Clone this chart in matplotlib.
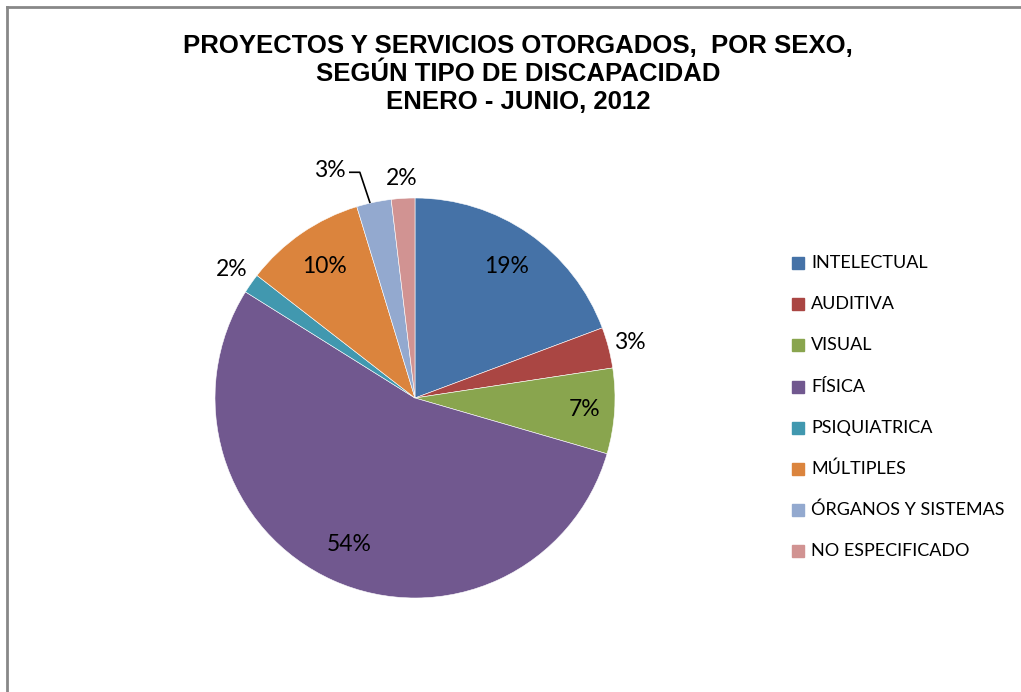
import numpy as np
import matplotlib
matplotlib.use("Agg")
import matplotlib.pyplot as plt
from matplotlib.lines import Line2D

# datos
categorias = ["INTELECTUAL", "AUDITIVA", "VISUAL", "FÍSICA", "PSIQUIATRICA",
              "MÚLTIPLES", "ÓRGANOS Y SISTEMAS", "NO ESPECIFICADO"]
valores = [19.3, 3.3, 6.9, 54.4, 1.6, 9.8, 2.8, 1.9]
etiquetas = ["19%", "3%", "7%", "54%", "2%", "10%", "3%", "2%"]
colores = ["#4572A7", "#AA4643", "#89A54E", "#71588F", "#4198AF",
           "#DB843D", "#93A9CF", "#D19392"]

titulo = ("PROYECTOS Y SERVICIOS OTORGADOS,  POR SEXO,\n"
          "SEGÚN TIPO DE DISCAPACIDAD\nENERO - JUNIO, 2012")

fig = plt.figure(figsize=(10.21, 6.92), dpi=100)
W, H = 1021, 692

# marco
fig.add_artist(Line2D([7 / W, 7 / W], [0, 1 - 7 / H], color="#888888", lw=2))
fig.add_artist(Line2D([7 / W, 1], [1 - 7 / H, 1 - 7 / H], color="#888888", lw=2))

fig.text(518 / W, 1 - 74 / H, titulo, ha="center", va="center",
         fontsize=18.5, fontweight="bold", family="Liberation Sans",
         linespacing=1.22)

ax = fig.add_axes([215 / W, 94 / H, 400 / W, 400 / H])
wedges, _ = ax.pie(valores, colors=colores, startangle=90, counterclock=False,
                   radius=1, wedgeprops=dict(edgecolor="white", linewidth=0.4))
ax.set_xlim(-1, 1)
ax.set_ylim(-1, 1)
ax.set_aspect("equal")
ax.axis("off")

fuente = "Lato"
# distancia radial de cada etiqueta
dist = [0.8, 1.11, 0.85, 0.8, 1.12, 0.8, None, 1.1]
for i, w in enumerate(wedges):
    ang = np.deg2rad((w.theta1 + w.theta2) / 2)
    if dist[i] is None:
        continue
    x, y = dist[i] * np.cos(ang), dist[i] * np.sin(ang)
    ax.text(x, y, etiquetas[i], ha="center", va="center", fontsize=16.5,
            family=fuente, color="black", clip_on=False)

# etiqueta con línea guía (órganos y sistemas)
w = wedges[6]
ang = np.deg2rad((w.theta1 + w.theta2) / 2)
ex, ey = np.cos(ang), np.sin(ang)
ax.plot([ex - 0.02, ex - 0.07, ex - 0.12], [ey, ey + 0.15, ey + 0.15],
        color="black", lw=1.2, clip_on=False)
ax.text(ex - 0.14, ey + 0.16, etiquetas[6], ha="right", va="center",
        fontsize=16.5, family=fuente, clip_on=False)

# leyenda
y0 = 263
for i, (cat, col) in enumerate(zip(categorias, colores)):
    yy = 1 - (y0 + i * 41.2) / H
    fig.patches.append(plt.Rectangle((792 / W, yy - 6 / H), 12 / W, 12 / H,
                                     transform=fig.transFigure, color=col,
                                     figure=fig))
    fig.text(811 / W, yy, cat, ha="left", va="center", fontsize=13,
             family=fuente)

fig.savefig("out.png", dpi=100, facecolor="white")
